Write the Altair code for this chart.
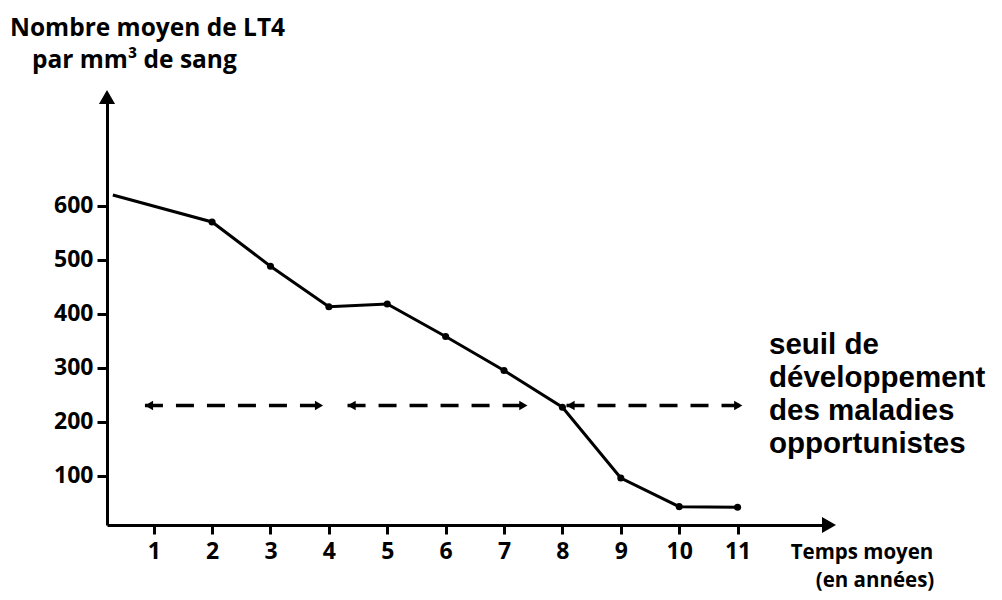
import altair as alt
import pandas as pd

# --- data ---
years = [0.3, 2, 3, 4, 5, 6, 7, 8, 9, 10, 11]
lt4 = [620, 570, 488, 413, 418, 358, 295, 227, 96, 43, 42]
marker_years = [2, 3, 4, 5, 6, 7, 8, 9, 10, 11]
marker_lt4 = [570, 488, 413, 418, 358, 295, 227, 96, 43, 42]

threshold = 230
seg_start = [0.85, 4.32, 8.07]
seg_end = [3.9, 7.4, 11.08]

x_ticks = [1, 2, 3, 4, 5, 6, 7, 8, 9, 10, 11]
y_ticks = [100, 200, 300, 400, 500, 600]

title_lines = ["Nombre moyen de LT4", "par mm³ de sang"]
x_title_lines = ["Temps moyen", "(en années)"]
note_lines = ["seuil de", "développement", "des maladies", "opportunistes"]

XDOM = [0.2, 12.6]
YDOM = [9, 805]
W, H = 724, 430

line_df = pd.DataFrame({"t": years, "v": lt4})
pts_df = pd.DataFrame({"t": marker_years, "v": marker_lt4})
seg_df = pd.DataFrame({"t": seg_start, "t2": seg_end, "v": [threshold] * 3})
left_df = pd.DataFrame({"t": seg_start, "v": [threshold] * 3})
right_df = pd.DataFrame({"t": seg_end, "v": [threshold] * 3})

xs = alt.Scale(domain=XDOM, nice=False, zero=False)
ys = alt.Scale(domain=YDOM, nice=False, zero=False)

FONT = "Open Sans"

xaxis = alt.Axis(values=x_ticks, format="d", title=None, grid=False, domainWidth=3, domainColor="black",
                 tickColor="black", tickWidth=3, tickSize=9, labelFont=FONT, labelFontWeight="bold",
                 labelFontSize=23, labelColor="black", labelPadding=6)
yaxis = alt.Axis(values=y_ticks, format="d", title=None, grid=False, domainWidth=3, domainColor="black",
                 tickColor="black", tickWidth=3, tickSize=10, labelFont=FONT, labelFontWeight="bold",
                 labelFontSize=23, labelColor="black", labelPadding=4)

base = alt.Chart(line_df)

line = base.mark_line(color="black", strokeWidth=3).encode(
    x=alt.X("t:Q", scale=xs, axis=xaxis),
    y=alt.Y("v:Q", scale=ys, axis=yaxis),
)

pts = alt.Chart(pts_df).mark_circle(color="black", size=50, opacity=1).encode(
    x=alt.X("t:Q", scale=xs), y=alt.Y("v:Q", scale=ys))

dash = alt.Chart(seg_df).mark_rule(color="black", strokeWidth=3.5, strokeDash=[18, 13]).encode(
    x=alt.X("t:Q", scale=xs), x2="t2:Q", y=alt.Y("v:Q", scale=ys))

larrow = alt.Chart(left_df).mark_point(shape="triangle-left", filled=True, color="black",
                                       size=90, opacity=1, xOffset=4).encode(
    x=alt.X("t:Q", scale=xs), y=alt.Y("v:Q", scale=ys))
rarrow = alt.Chart(right_df).mark_point(shape="triangle-right", filled=True, color="black",
                                        size=90, opacity=1, xOffset=-4).encode(
    x=alt.X("t:Q", scale=xs), y=alt.Y("v:Q", scale=ys))

# axis arrow heads
yhead = alt.Chart(pd.DataFrame({"a": [0]})).mark_point(
    shape="triangle-up", filled=True, color="black", size=260, opacity=1).encode(
    x=alt.value(0), y=alt.value(2))
xhead = alt.Chart(pd.DataFrame({"a": [0]})).mark_point(
    shape="triangle-right", filled=True, color="black", size=260, opacity=1).encode(
    x=alt.value(W - 2), y=alt.value(H))

def text_layer(lines, xs_, ys_, size, font, align="left"):
    df = pd.DataFrame({"txt": lines, "px": xs_, "py": ys_})
    return alt.Chart(df).mark_text(font=font, fontWeight="bold", fontSize=size, color="black",
                                   align=align, baseline="middle").encode(
        text="txt:N", x=alt.X("px:Q", scale=None), y=alt.Y("py:Q", scale=None))

title_t = text_layer(title_lines, [-97, -75], [-66, -34], 24.5, FONT)
xtitle_t = text_layer(x_title_lines, [755, 768], [458, 486], 20.5, FONT, align="center")
note_t = text_layer(note_lines, [662, 662, 662, 662], [250, 283, 316, 349], 29.5, "Liberation Sans")

chart = alt.layer(line, pts, dash, larrow, rarrow, yhead, xhead, title_t, xtitle_t, note_t).properties(
    width=W, height=H,
    background="white",
    autosize=alt.AutoSizeParams(type="none"),
    padding={"left": 99, "top": 87, "right": 163, "bottom": 67},
).configure_view(strokeWidth=0, stroke="transparent")

chart.save("out.html", embed_options={"renderer": "svg", "actions": False})
